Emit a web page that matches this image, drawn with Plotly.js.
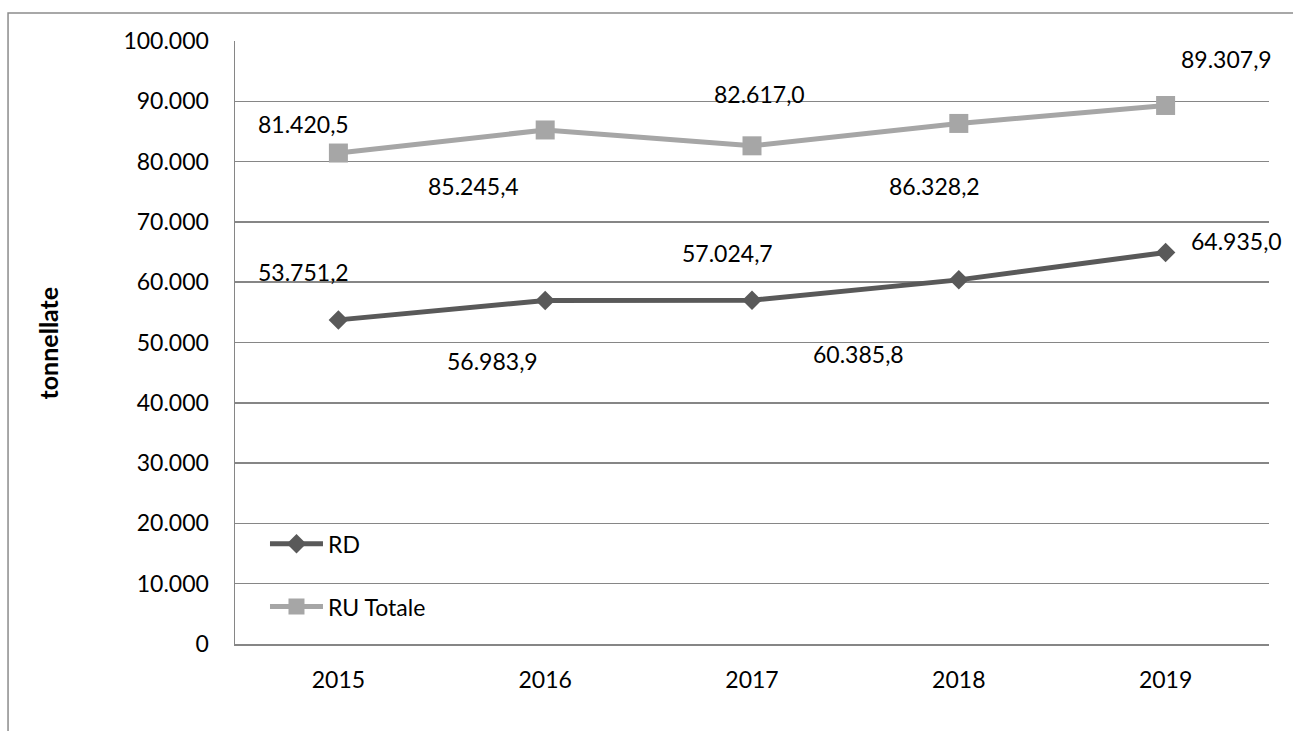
<!DOCTYPE html>
<html>
<head>
<meta charset="utf-8">
<script src="https://cdn.plot.ly/plotly-3.0.1.min.js"></script>
<style>
  html, body { margin: 0; padding: 0; background: #fff; }
  #chart { width: 1293px; height: 731px; }
</style>
</head>
<body>
<div id="chart"></div>
<script>
// ---- data ----
const years = ['2015', '2016', '2017', '2018', '2019'];
const rdValues = [53751.2, 56983.9, 57024.7, 60385.8, 64935.0];
const ruTotaleValues = [81420.5, 85245.4, 82617.0, 86328.2, 89307.9];
const yTickValues = [0, 10000, 20000, 30000, 40000, 50000, 60000, 70000, 80000, 90000, 100000];
const seriesNames = ['RD', 'RU Totale'];
const yAxisTitle = 'tonnellate';

// ---- helpers ----
function fmtIt(v, dec) {
  const parts = v.toFixed(dec).split('.');
  const intPart = parts[0].replace(/\B(?=(\d{3})+(?!\d))/g, '.');
  return dec > 0 ? intPart + ',' + parts[1] : intPart;
}

const FONT = 'Lato, "Open Sans", "Liberation Sans", sans-serif';
const rdColor = '#595959';
const ruColor = '#A6A6A6';

const traces = [
  {
    x: years, y: rdValues, name: seriesNames[0], type: 'scatter', mode: 'lines+markers',
    line: { color: rdColor, width: 5 },
    marker: { symbol: 'diamond', size: 15, color: rdColor },
    legendgroup: 'a', hoverinfo: 'skip'
  },
  {
    x: years, y: ruTotaleValues, name: seriesNames[1], type: 'scatter', mode: 'lines+markers',
    line: { color: ruColor, width: 5 },
    marker: { symbol: 'square', size: 19, color: ruColor },
    legendgroup: 'b', hoverinfo: 'skip'
  }
];

// label offsets (pixels) for the data labels, as placed in the original
const rdShift = [[-35, 48], [-53, -61], [-25, 47], [-100, -74], [71, 11]];
const ruShift = [[-35, 29], [-72, -56], [7, 52], [-24, -63], [61, 46]];

const annotations = [];
years.forEach((yr, i) => {
  annotations.push({
    x: i, y: rdValues[i], xref: 'x', yref: 'y', text: fmtIt(rdValues[i], 1),
    showarrow: false, xshift: rdShift[i][0], yshift: rdShift[i][1],
    xanchor: 'center', yanchor: 'middle',
    font: { family: FONT, size: 23, color: '#000' }
  });
  annotations.push({
    x: i, y: ruTotaleValues[i], xref: 'x', yref: 'y', text: fmtIt(ruTotaleValues[i], 1),
    showarrow: false, xshift: ruShift[i][0], yshift: ruShift[i][1],
    xanchor: 'center', yanchor: 'middle',
    font: { family: FONT, size: 23, color: '#000' }
  });
});
annotations.push({
  x: -0.1809, y: 0.5, xref: 'paper', yref: 'paper', text: '<b>' + yAxisTitle + '</b>',
  textangle: -90, showarrow: false, xanchor: 'center', yanchor: 'middle',
  font: { family: FONT, size: 25, color: '#000' }
});

const layout = {
  width: 1293, height: 731,
  margin: { l: 235, r: 24, t: 41, b: 87 },
  paper_bgcolor: '#fff', plot_bgcolor: '#fff',
  separators: ',.',
  font: { family: FONT, size: 23, color: '#000' },
  showlegend: true,
  legend: {
    x: 0.029, y: 0.202, xanchor: 'left', yanchor: 'top',
    bgcolor: 'rgba(0,0,0,0)', font: { family: FONT, size: 23, color: '#000' },
    traceorder: 'grouped', tracegroupgap: 30, itemwidth: 53
  },
  xaxis: {
    type: 'category', range: [-0.5, 4.5], showgrid: false, zeroline: false,
    showline: true, linecolor: '#868686', linewidth: 1.5, ticks: '',
    ticklabelstandoff: 15, tickfont: { family: FONT, size: 23, color: '#000' },
    fixedrange: true
  },
  yaxis: {
    range: [0, 100000], tickvals: yTickValues, ticktext: yTickValues.map(v => fmtIt(v, 0)),
    showgrid: true, gridcolor: '#868686', gridwidth: 1.5, zeroline: false,
    showline: true, linecolor: '#868686', linewidth: 1.5, ticks: '',
    ticklabelstandoff: 20, tickfont: { family: FONT, size: 23, color: '#000' },
    fixedrange: true
  },
  shapes: [
    {
      type: 'rect', xref: 'paper', yref: 'paper',
      x0: -0.2195, x1: 1.05, y0: -0.2, y1: 1.0464,
      line: { color: '#8c8c8c', width: 1.5 }, fillcolor: 'rgba(0,0,0,0)', layer: 'below'
    }
  ],
  annotations: annotations
};

Plotly.newPlot('chart', traces, layout, { displayModeBar: false, staticPlot: true });
</script>
</body>
</html>
